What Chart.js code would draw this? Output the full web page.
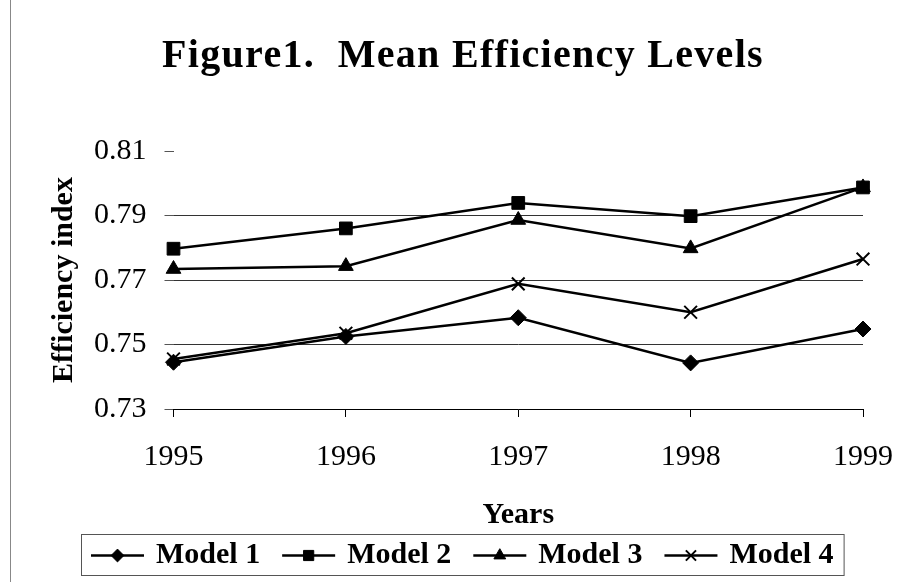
<!DOCTYPE html>
<html>
<head>
<meta charset="utf-8">
<title>Mean Efficiency Levels</title>
<script src="https://cdn.jsdelivr.net/npm/chart.js@4.4.1/dist/chart.umd.min.js"></script>
<style>
  html, body { margin: 0; padding: 0; background: #fff; }
</style>
</head>
<body>
<canvas id="myChart" width="905" height="582"></canvas>
<script>
var titleText = 'Figure1.  Mean Efficiency Levels';
var years = ['1995', '1996', '1997', '1998', '1999'];
var model1 = [0.7445, 0.7525, 0.7583, 0.7443, 0.7548];
var model2 = [0.7797, 0.7860, 0.7939, 0.7898, 0.7987];
var model3 = [0.7734, 0.7743, 0.7886, 0.7798, 0.7987];
var model4 = [0.7455, 0.7535, 0.7688, 0.7600, 0.7765];
var yTicks = [0.73, 0.75, 0.77, 0.79, 0.81];

var serif = '"Liberation Serif", "Times New Roman", serif';

function serie(label, data, style, radius, border) {
    return {
        label: label,
        data: data,
        borderColor: '#000',
        backgroundColor: '#000',
        borderWidth: 2.5,
        pointStyle: style,
        pointRadius: radius,
        pointBorderWidth: border,
        pointBackgroundColor: '#000',
        pointBorderColor: '#000',
        tension: 0,
        clip: false
    };
}

// title, legend box and the frame line are drawn here
var extras = {
    id: 'extras',
    afterDraw: function (chart) {
        var ctx = chart.ctx;
        ctx.save();

        ctx.strokeStyle = '#888';
        ctx.lineWidth = 1;
        ctx.beginPath();
        ctx.moveTo(10.5, 0);
        ctx.lineTo(10.5, chart.height);
        ctx.stroke();

        ctx.fillStyle = '#000';
        ctx.font = 'bold 40px ' + serif;
        ctx.letterSpacing = '1.3px';
        ctx.textAlign = 'center';
        ctx.textBaseline = 'middle';
        ctx.fillText(titleText, 463, 57);
        ctx.letterSpacing = '0px';

        // legend
        var sets = chart.data.datasets;
        ctx.font = 'bold 30px ' + serif;
        var lineLen = 53, gap = 12, between = 22, pad = 10;
        var widths = sets.map(function (d) { return ctx.measureText(d.label).width; });
        var total = 2 * pad + (sets.length - 1) * between;
        for (var i = 0; i < sets.length; i++) total += lineLen + gap + widths[i];
        var left = Math.round(462 - total / 2), top = 534, h = 41;
        ctx.strokeStyle = '#555';
        ctx.lineWidth = 1;
        ctx.strokeRect(left + 0.5, top + 0.5, total, h);

        var x = left + pad, cy = top + h / 2 + 1;
        ctx.textAlign = 'left';
        for (var j = 0; j < sets.length; j++) {
            var ds = sets[j];
            ctx.strokeStyle = '#000';
            ctx.fillStyle = '#000';
            ctx.lineWidth = 2.5;
            ctx.beginPath();
            ctx.moveTo(x, cy);
            ctx.lineTo(x + lineLen, cy);
            ctx.stroke();
            ctx.lineWidth = ds.pointBorderWidth;
            Chart.helpers.drawPoint(ctx, {
                pointStyle: ds.pointStyle,
                rotation: 0,
                radius: ds.pointRadius * 0.8,
                borderWidth: ds.pointBorderWidth
            }, x + lineLen / 2, cy);
            ctx.fillText(ds.label, x + lineLen + gap, cy);
            x += lineLen + gap + widths[j] + between;
        }
        ctx.restore();
    }
};

new Chart(document.getElementById('myChart'), {
    type: 'line',
    data: {
        labels: years,
        datasets: [
            serie('Model 1', model1, 'rectRot', 8, 1),
            serie('Model 2', model2, 'rect', 9, 1),
            serie('Model 3', model3, 'triangle', 8.5, 1),
            serie('Model 4', model4, 'crossRot', 9, 2)
        ]
    },
    options: {
        responsive: false,
        animation: false,
        layout: { padding: { top: 151, right: 42, bottom: 49, left: 52 } },
        plugins: {
            legend: { display: false },
            title: { display: false },
            tooltip: { enabled: false }
        },
        scales: {
            x: {
                offset: false,
                border: { display: true, color: '#000', width: 1 },
                grid: { drawOnChartArea: false, drawTicks: true, tickLength: 8, color: '#000' },
                ticks: {
                    color: '#000',
                    font: { family: serif, size: 30, lineHeight: 2 },
                    padding: 10, maxRotation: 0, autoSkip: false
                },
                title: {
                    display: true, text: 'Years', color: '#000',
                    font: { family: serif, size: 30, weight: 'bold' },
                    padding: { top: 0, bottom: 0 }
                }
            },
            y: {
                min: 0.73,
                max: 0.81,
                afterBuildTicks: function (axis) {
                    axis.ticks = yTicks.map(function (v) { return { value: v }; });
                },
                border: { display: false },
                grid: {
                    color: function (c) {
                        return c.tick && c.tick.value > 0.805 ? 'rgba(0,0,0,0)' : '#333';
                    },
                    tickColor: '#555',
                    tickLength: 9,
                    lineWidth: 1
                },
                ticks: {
                    color: '#000',
                    font: { family: serif, size: 30 },
                    padding: 18,
                    callback: function (v) { return Number(v).toFixed(2); }
                },
                title: {
                    display: true, text: 'Efficiency index', color: '#000',
                    font: { family: serif, size: 30, weight: 'bold', lineHeight: 0.8 },
                    padding: { top: 0, bottom: 0 }
                }
            }
        }
    },
    plugins: [extras]
});
</script>
</body>
</html>
